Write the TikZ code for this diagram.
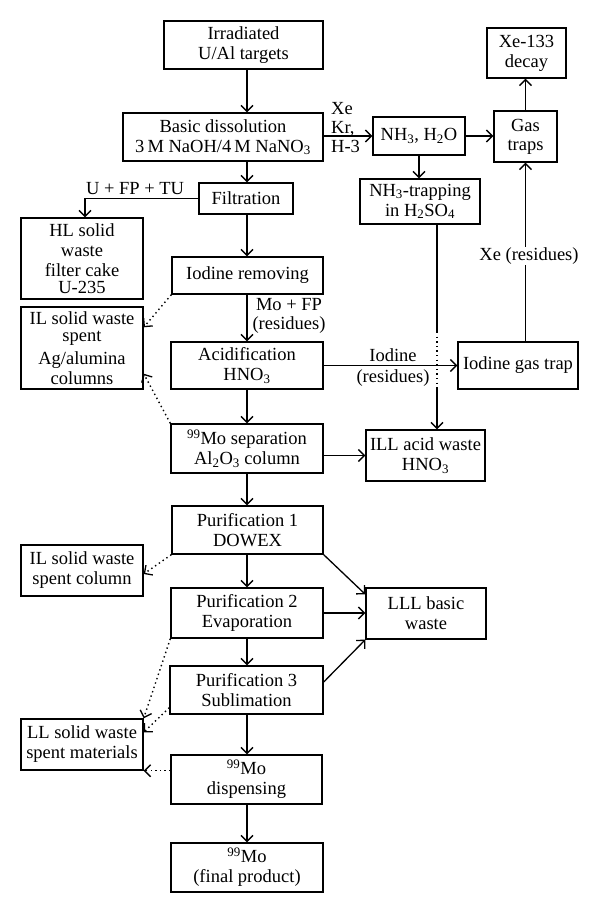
\documentclass[tikz,border=0pt]{standalone}
\usepackage{fontspec}
\setmainfont{Liberation Serif}
\usetikzlibrary{arrows.meta}
\newcommand{\fsz}{\fontsize{18.5}{20}\selectfont}
\tikzset{
  box/.style={draw, line width=1.4pt, inner sep=0pt, align=center, font=\fsz},
  lbl/.style={inner sep=0pt, align=center, font=\fsz},
  arr/.style={line width=1.3pt, -{Straight Barb[length=6pt,width=12pt,line width=1.3pt]}},
  ln/.style={line width=1.3pt},
  dotarr/.style={line width=1.4pt, dash pattern=on 1.4pt off 3.2pt, -{Straight Barb[length=6pt,width=12pt,line width=1.3pt]}},
  dotln/.style={line width=1.4pt, dash pattern=on 1.4pt off 3.2pt}
}
\begin{document}
\begin{tikzpicture}[x=1pt,y=-1pt]
\useasboundingbox (0,0) rectangle (600,913);
% main column
\node[box, minimum width=159pt, minimum height=48pt] (irr) at (243.5,45) {Irradiated\\U/Al targets};
\node[box, minimum width=200pt, minimum height=48pt] (basic) at (223,137) {Basic dissolution\\3\,M NaOH/4\,M NaNO\textsubscript{3}};
\node[box, minimum width=94pt, minimum height=31pt] (filt) at (246,198.5) {Filtration};
\node[box, minimum width=122pt, minimum height=81pt] (hl) at (82,258.5) {HL solid\\waste\\filter cake\\[-3pt]U-235};
\node[box, minimum width=151pt, minimum height=37pt] (iod) at (247.5,275.5) {Iodine removing};
\node[box, minimum width=122pt, minimum height=82pt] (ilag) at (82,348) {IL solid waste\\[-3pt]spent\\[3pt]Ag/alumina\\columns};
\node[box, minimum width=152pt, minimum height=47pt] (acid) at (247,365.5) {Acidification\\HNO\textsubscript{3}};
\node[box, minimum width=152pt, minimum height=49pt] (mosep) at (247,448.5) {\textsuperscript{99}Mo separation\\Al\textsubscript{2}O\textsubscript{3} column};
\node[box, minimum width=151pt, minimum height=48pt] (p1) at (247.5,530) {Purification 1\\DOWEX};
\node[box, minimum width=122pt, minimum height=51pt] (ilsc) at (82,570.5) {IL solid waste\\spent column};
\node[box, minimum width=152pt, minimum height=50pt] (p2) at (247,613) {Purification 2\\Evaporation};
\node[box, minimum width=153pt, minimum height=48pt] (p3) at (246.5,690) {Purification 3\\Sublimation};
\node[box, minimum width=122pt, minimum height=51pt] (ll) at (82,744.5) {LL solid waste\\spent materials};
\node[box, minimum width=151pt, minimum height=49pt] (disp) at (246.5,779.5) {\textsuperscript{99}Mo\\dispensing};
\node[box, minimum width=152pt, minimum height=49pt] (final) at (247,867.5) {\textsuperscript{99}Mo\\(final product)};
% right part
\node[box, minimum width=79pt, minimum height=50pt] (xe) at (526.5,53) {Xe-133\\decay};
\node[box, minimum width=63pt, minimum height=51pt] (gas) at (525.5,136.5) {Gas\\[-1pt]traps};
\node[box, minimum width=92pt, minimum height=38pt] (nh3) at (419,136) {NH\textsubscript{3}, H\textsubscript{2}O};
\node[box, minimum width=120pt, minimum height=45pt] (nh3t) at (420,201.5) {NH\textsubscript{3}-trapping\\in H\textsubscript{2}SO\textsubscript{4}};
\node[box, minimum width=120pt, minimum height=47pt] (igt) at (518,365.5) {Iodine gas trap};
\node[box, minimum width=119pt, minimum height=51pt] (ill) at (425.5,455.5) {ILL acid waste\\HNO\textsubscript{3}};
\node[box, minimum width=120pt, minimum height=51pt] (lll) at (426,613.5) {LLL basic\\waste};
% helper coordinates
\coordinate (col) at (247,0);
\coordinate (hlx) at (85,0);
\coordinate (d1) at (437,332);
\coordinate (d2) at (437,387);
% labels
\node[lbl, align=left, anchor=west, font=\fontsize{18.5}{19}\selectfont] (xkh) at (331,128) {Xe\\Kr,\\H-3};
\node[lbl] (ufp) at (135,189) {U + FP + TU};
\node[lbl, font=\fontsize{18.5}{19}\selectfont] (mofp) at (289,315.5) {Mo + FP\\(residues)};
\node[lbl, font=\fontsize{18.5}{21}\selectfont] (iodl) at (393,367.5) {Iodine\\(residues)};
% main vertical arrows
\draw[arr] (irr.south -| col) -- (basic.north -| col);
\draw[arr] (basic.south -| col) -- (filt.north -| col);
\draw[arr] (filt.south -| col) -- (iod.north -| col);
\draw[arr] (iod.south -| col) -- (acid.north -| col);
\draw[arr] (acid.south -| col) -- (mosep.north -| col);
\draw[arr] (mosep.south -| col) -- (p1.north -| col);
\draw[arr] (p1.south -| col) -- (p2.north -| col);
\draw[arr] (p2.south -| col) -- (p3.north -| col);
\draw[arr] (p3.south -| col) -- (disp.north -| col);
\draw[arr] (disp.south -| col) -- (final.north -| col);
% filtration to HL
\draw[arr] (filt.west) -- (filt.west -| hlx) -- (hl.north -| hlx);
% gas path
\draw[arr] (nh3.west -| basic.east) -- (nh3.west);
\draw[arr] (nh3.east) -- (nh3.east -| gas.west);
\draw[arr] (gas.north) -- (gas.north |- xe.south);
\draw[arr] (nh3.south) -- (nh3.south |- nh3t.north);
\draw[arr] (igt.north -| gas.center) -- (gas.south);
\node[lbl, fill=white, inner sep=1pt] (xer) at (529,256) {Xe (residues)};
\draw[arr] (acid.east) -- (igt.west);
% NH3 trapping to ILL
\draw[ln] (nh3t.south -| d1) -- (d1);
\draw[dotln] (d1) -- (d2);
\draw[arr] (d2) -- (ill.north -| d2);
\draw[arr] (ill.west -| mosep.east) -- (ill.west);
% to LLL
\draw[arr] (p1.south east) -- ([yshift=-7pt]lll.north west);
\draw[arr] (p2.east) -- (p2.east -| lll.west);
\draw[arr] ([yshift=8pt]p3.east) -- (lll.south west);
% dotted waste arrows
\draw[dotarr] (iod.south west) -- ([yshift=-21pt]ilag.north east);
\draw[dotarr] (mosep.north west) -- ([yshift=16pt]ilag.south east);
\draw[dotarr] (p1.south west) -- ([yshift=-3.5pt]ilsc.east);
\draw[dotarr] (p2.south west) -- (ll.north east);
\draw[dotarr] ([yshift=7pt]p3.south west) -- ([yshift=-14pt]ll.north east);
\draw[dotarr] (ll.south east -| disp.west) -- (ll.south east);
\end{tikzpicture}
\end{document}
